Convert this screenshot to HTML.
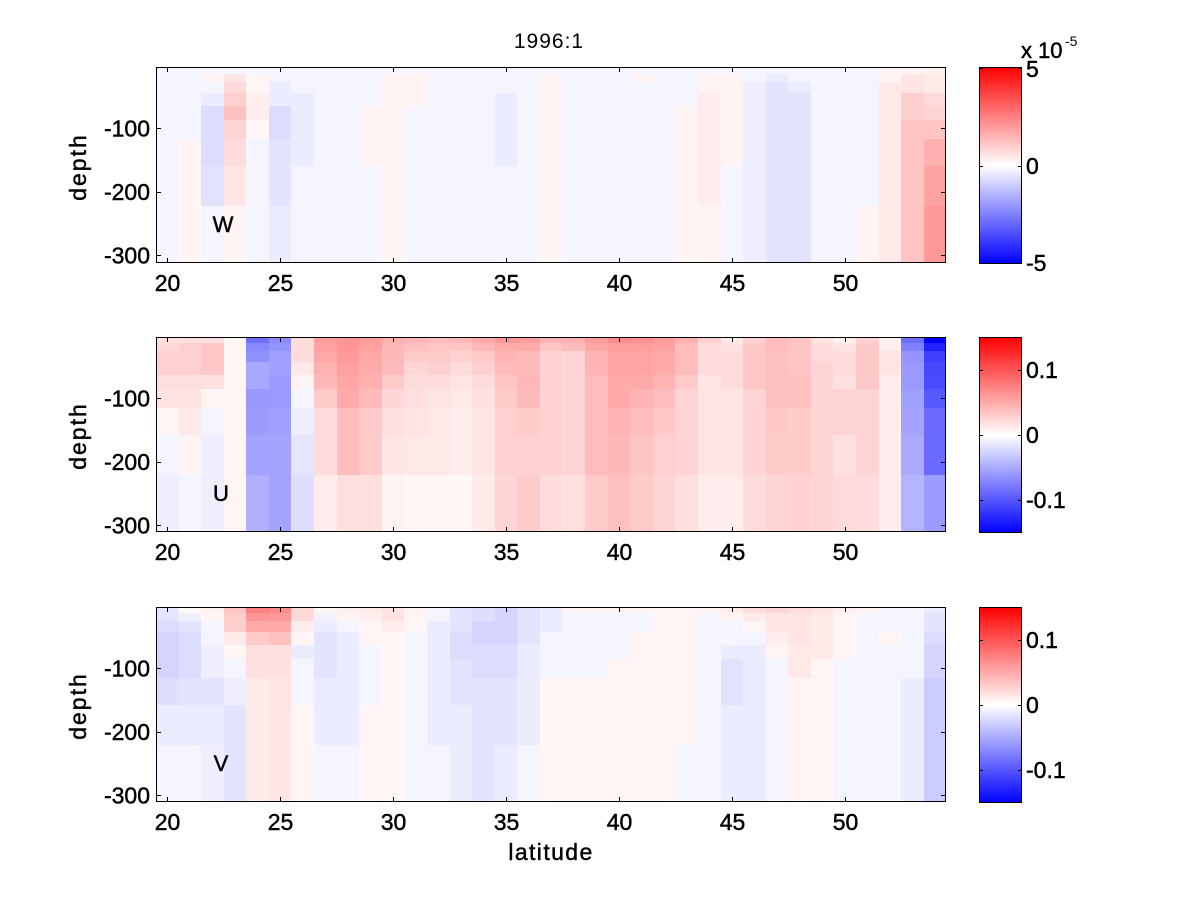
<!DOCTYPE html>
<html><head><meta charset="utf-8">
<style>
html,body{margin:0;padding:0;background:#fff;}
svg{display:block;}
text{font-family:"Liberation Sans",Arial,sans-serif;fill:#000;}
.b{stroke:#000;stroke-width:0.45px;}
</style></head>
<body>
<svg id="s" width="1200" height="900" viewBox="0 0 1200 900" xmlns="http://www.w3.org/2000/svg">
<defs>
<linearGradient id="cb" x1="0" y1="0" x2="0" y2="1">
<stop offset="0" stop-color="#ff0000"/>
<stop offset="0.5" stop-color="#ffffff"/>
<stop offset="1" stop-color="#0000ff"/>
</linearGradient>
</defs>
<rect x="0" y="0" width="1200" height="900" fill="#fff"/>
<g id="cells" shape-rendering="crispEdges"></g>
<g id="frames" shape-rendering="crispEdges" stroke="#000" stroke-width="1" fill="none"></g>

<text x="549" y="48" font-size="21" text-anchor="middle" letter-spacing="1">1996:1</text>

<!-- panel labels -->
<text class="b" x="223" y="232" font-size="22" text-anchor="middle">W</text>
<text class="b" x="221" y="501" font-size="22" text-anchor="middle">U</text>
<text class="b" x="221" y="771" font-size="22" text-anchor="middle">V</text>

<!-- y labels -->
<text class="b" transform="translate(86,167) rotate(-90)" font-size="23" text-anchor="middle" letter-spacing="2">depth</text>
<text class="b" transform="translate(86,436) rotate(-90)" font-size="23" text-anchor="middle" letter-spacing="2">depth</text>
<text class="b" transform="translate(86,706) rotate(-90)" font-size="23" text-anchor="middle" letter-spacing="2">depth</text>

<!-- x label -->
<text class="b" x="551" y="860" font-size="23" text-anchor="middle" letter-spacing="1.4">latitude</text>

<!-- colorbar 1 labels -->
<text class="b" x="1021" y="58" font-size="22">x</text>
<text class="b" x="1038" y="58" font-size="22">10</text>
<text x="1065" y="46" font-size="14">-5</text>
<text class="b" x="1026" y="77" font-size="23">5</text>
<text class="b" x="1026" y="174" font-size="23">0</text>
<text class="b" x="1026" y="271" font-size="23">-5</text>

<!-- colorbar 2 labels -->
<text class="b" x="1026" y="378" font-size="23">0.1</text>
<text class="b" x="1026" y="443" font-size="23">0</text>
<text class="b" x="1026" y="508" font-size="23">-0.1</text>

<!-- colorbar 3 labels -->
<text class="b" x="1026" y="648" font-size="23">0.1</text>
<text class="b" x="1026" y="713" font-size="23">0</text>
<text class="b" x="1026" y="778" font-size="23">-0.1</text>

<g id="ticklabels"></g>
</svg>
<script>
(function(){
var NS="http://www.w3.org/2000/svg";
var B=[-10,-10,-10,-10,-10,-10,-10,-10,-10];
var W=[
B,
[-10,-10,-10,-10,-10,-10,10,10,10],
[-10,12,-10,-19,-35,-35,-35,-29,-10],
[-10,25,37,47,63,43,35,27,11],
[-10,10,10,17,17,9,-10,-10,-10],
[-10,-10,-19,-19,-35,-35,-27,-27,-19],
[-10,-10,-10,-19,-19,-19,-19,-10,-10],
B,B,
[-10,-10,-10,-10,11,11,11,-10,-10],
[-10,11,11,11,11,11,11,11,11],
[-10,11,11,11,-10,-10,-10,-10,-10],
B,B,B,
[-10,-10,-10,-19,-19,-19,-19,-10,-10],
B,
[-10,11,11,11,11,11,11,11,11],
B,B,B,
[-10,11,-10,-10,-10,-10,-10,-10,-10],
B,
[-10,-10,-10,-10,11,11,11,11,11],
[-10,11,11,19,19,19,19,19,11],
[-10,11,11,11,11,11,11,-10,-10],
[-10,-10,-17,-17,-17,-17,-17,-17,-17],
[-10,-19,-27,-27,-27,-27,-27,-27,-27],
[-10,-10,-19,-27,-27,-27,-27,-27,-27],
B,B,
[-10,-10,-10,-10,-10,-10,-10,-10,11],
[11,11,22,22,22,22,22,22,22],
[11,27,27,49,49,59,59,59,59],
[15,21,21,37,43,59,79,93,103]
];
var U=[
[31,39,47,47,33,29,10,-10,-17],
[31,47,47,47,33,29,21,11,-10],
[31,55,55,55,31,10,-10,-17,-17],
[10,10,10,10,10,10,10,10,10],
[-144,-119,-111,-87,-87,-103,-99,-91,-79],
[-115,-107,-95,-95,-102,-102,-95,-91,-91],
[35,35,35,23,13,-10,-17,-26,-33],
[99,95,87,79,71,53,35,35,18],
[107,107,101,95,89,85,67,67,33],
[99,95,87,85,79,68,53,53,33],
[79,71,71,68,53,42,33,25,13],
[71,63,53,42,35,33,27,23,9],
[67,59,53,47,35,27,23,23,9],
[71,59,47,35,27,23,18,18,9],
[85,71,53,47,35,31,27,27,21],
[103,85,75,69,59,53,47,47,41],
[99,85,69,69,71,69,53,47,53],
[75,59,45,45,45,45,45,45,35],
[79,67,43,43,43,43,43,43,33],
[99,87,75,75,67,67,67,67,53],
[115,99,91,91,85,85,75,71,63],
[111,99,91,91,85,75,67,59,53],
[99,95,85,85,75,67,55,47,43],
[79,67,67,67,53,43,43,43,33],
[47,35,35,35,27,27,27,27,18],
[21,31,35,35,35,27,27,27,18],
[47,55,55,55,55,43,43,43,35],
[67,67,63,63,63,63,55,53,43],
[59,59,59,59,63,63,51,51,45],
[27,35,35,43,43,43,43,43,43],
[15,27,35,35,31,43,43,31,35],
[47,55,55,55,55,43,43,43,35],
[15,15,27,27,18,18,18,18,18],
[-144,-127,-107,-102,-102,-95,-91,-85,-75],
[-255,-221,-191,-183,-179,-167,-149,-149,-99]
];
var V=[
[-25,-27,-35,-43,-43,-43,-33,-19,-10],
[9,-17,-27,-35,-35,-35,-27,-19,-10],
[15,10,-10,-10,-17,-17,-27,-19,-17],
[59,51,49,21,10,-10,-17,-27,-27],
[127,105,85,53,31,31,21,21,21],
[115,103,87,63,31,31,27,27,27],
[39,39,19,10,-19,-10,-10,10,10],
[11,-13,-19,-27,-27,-27,-19,-19,-10],
[15,11,-10,-19,-19,-19,-19,-19,-10],
[23,17,10,10,-10,-10,-10,10,10],
[29,29,19,9,9,9,9,9,9],
[11,10,10,-10,-10,-10,-10,-10,-10],
[-10,-10,-19,-19,-19,-19,-19,-19,-10],
[-27,-27,-27,-35,-35,-27,-27,-19,-19],
[-33,-33,-43,-43,-35,-35,-27,-27,-27],
[-43,-43,-43,-43,-35,-35,-27,-27,-19],
[-27,-27,-27,-27,-19,-19,-19,-19,-10],
[-19,-19,-19,-10,-10,-10,10,10,10],
[10,-10,-10,-10,-10,-10,10,10,10],
[10,-10,-10,-10,-10,-10,10,10,10],
[10,-10,-10,-10,-10,10,10,10,10],
[10,-10,-10,10,10,10,10,10,10],
[10,10,10,10,10,10,10,10,10],
[10,10,10,10,10,10,10,10,-10],
[10,-10,-10,-10,-10,-10,-10,-10,-10],
[21,13,-10,-10,-19,-29,-29,-19,-19],
[35,21,10,-10,-19,-19,-19,-19,-19],
[41,27,27,19,10,-10,-10,-10,-10],
[35,27,27,27,23,23,10,10,10],
[27,21,21,21,21,10,10,10,10],
[17,10,10,10,10,-10,-10,-10,-10],
[13,-10,-10,-10,-10,-10,-10,-10,-10],
[-10,-10,-10,10,-10,-10,-10,-10,-10],
[-10,-10,-10,-10,-10,-10,-19,-19,-19],
[-19,-27,-27,-35,-43,-43,-51,-51,-51]
];
var panels=[
 {T:67,Bt:262,rows:[67,74,82,93,106,120,139,166,206,262],d:W,
  yt:[128,191.5,255],cb:[[68,"5"],[165.5,"0"],[263,"-5"]]},
 {T:337,Bt:531,rows:[337,343,351,362,375,389,408,435,475,531],d:U,
  yt:[398,461.5,525],cb:[[369.5,"0.1"],[434.5,"0"],[499.5,"-0.1"]]},
 {T:607,Bt:801,rows:[607,613,621,632,645,659,678,705,745,801],d:V,
  yt:[668,731.5,795],cb:[[639.5,"0.1"],[704.5,"0"],[769.5,"-0.1"]]}
];
var L=156, CW=22.58;
function col(v){
  v=Math.max(-255,Math.min(255,v));
  if(v>=0){var c=255-v;return "rgb(255,"+c+","+c+")";}
  var c2=255+v;return "rgb("+c2+","+c2+",255)";
}
var cells=document.getElementById("cells");
var frames=document.getElementById("frames");
var tl=document.getElementById("ticklabels");
function el(name,attrs,parent,txt){
  var e=document.createElementNS(NS,name);
  for(var k in attrs)e.setAttribute(k,attrs[k]);
  if(txt!==undefined)e.textContent=txt;
  parent.appendChild(e);return e;
}
var xb=[];for(var k=0;k<=35;k++)xb.push(Math.round(L+k*CW));
panels.forEach(function(p){
  for(var c=0;c<35;c++){
    for(var r=0;r<9;r++){
      el("rect",{x:xb[c],y:p.rows[r],width:xb[c+1]-xb[c],height:p.rows[r+1]-p.rows[r],fill:col(p.d[c][r])},cells);
    }
  }
  el("rect",{x:156.5,y:p.T+0.5,width:789,height:p.Bt-p.T},frames);
  for(var lat=20;lat<=50;lat+=5){
    var x=Math.round(L+(lat-19.5)*CW)+0.5;
    el("line",{x1:x,y1:p.Bt+0.5,x2:x,y2:p.Bt-4},frames);
    el("line",{x1:x,y1:p.T+0.5,x2:x,y2:p.T+5},frames);
    el("text",{x:x,y:p.Bt+29,"font-size":23,"text-anchor":"middle","class":"b"},tl,String(lat));
  }
  var labs=["-100","-200","-300"];
  p.yt.forEach(function(y,i){
    var yy=Math.round(y)+0.5;
    el("line",{x1:156.5,y1:yy,x2:161,y2:yy},frames);
    el("line",{x1:945.5,y1:yy,x2:941,y2:yy},frames);
    el("text",{x:150,y:y+8.3,"font-size":23,"text-anchor":"end","class":"b"},tl,labs[i]);
  });
  el("rect",{x:979,y:p.T+0.5,width:43,height:p.Bt-p.T+1,fill:"url(#cb)",stroke:"none"},cells);
  el("rect",{x:979.5,y:p.T+0.5,width:42,height:p.Bt-p.T+1},frames);
  p.cb.forEach(function(t){
    var yy=Math.round(t[0])+0.5;
    el("line",{x1:979.5,y1:yy,x2:983,y2:yy},frames);
    el("line",{x1:1021.5,y1:yy,x2:1018,y2:yy},frames);
  });
});
})();
</script>
</body></html>
